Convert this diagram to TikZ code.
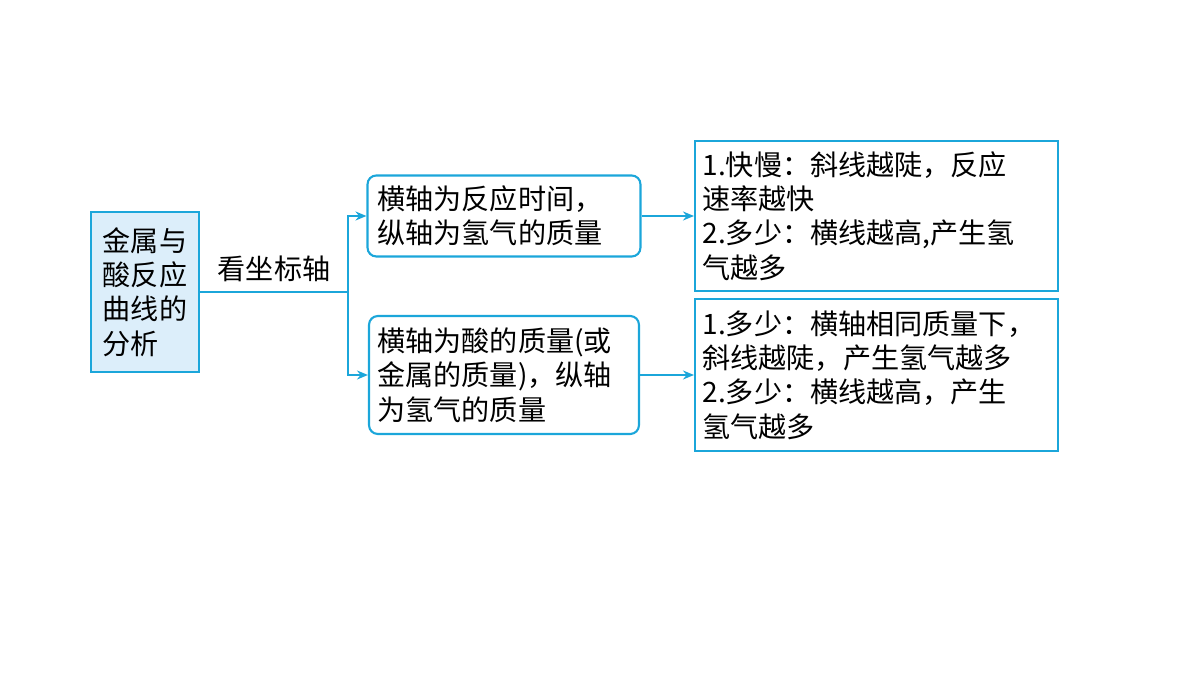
\documentclass[tikz,border=0pt]{standalone}
\usepackage{fontspec}
\setmainfont{Noto Sans CJK SC}
\usetikzlibrary{arrows.meta}
\definecolor{lineblue}{HTML}{1BA6DA}
\definecolor{fillblue}{HTML}{DCEEFA}
\tikzset{
    box/.style={draw=lineblue, line width=1.2pt, align=left, inner xsep=0.2cm,
        font=\fontsize{16}{19.5}\selectfont, anchor=center},
    link/.style={draw=lineblue, line width=1.2pt},
    arr/.style={link, -{Stealth[length=2.2mm,width=1.8mm]}}
}
\begin{document}
\begin{tikzpicture}[x=0.02cm, y=-0.02cm]
    \useasboundingbox (0,0) rectangle (1200,675);
    \node[box, fill=fillblue, minimum width=2.16cm, minimum height=3.2cm, inner xsep=0.12cm] (l) at (145,292) {金属与\\酸反应\\曲线的\\分析};
    \node[box, rounded corners=5pt, minimum width=5.4cm, minimum height=1.62cm, text width=5.06cm] (b1) at (504,216) {横轴为反应时间，\\纵轴为氢气的质量};
    \node[box, rounded corners=5pt, minimum width=5.4cm, minimum height=2.36cm, text width=5.06cm, inner xsep=0.17cm] (b2) at (504,375) {横轴为酸的质量(或\\金属的质量)，纵轴\\为氢气的质量};
    \node[box, minimum width=7.26cm, minimum height=3.0cm, text width=6.96cm, inner xsep=0.15cm] (r1) at (876.5,216) {1.快慢：斜线越陡，反应\\速率越快\\2.多少：横线越高,产生氢\\气越多};
    \node[box, minimum width=7.26cm, minimum height=3.04cm, text width=6.96cm, inner xsep=0.15cm] (r2) at (876.5,375) {1.多少：横轴相同质量下，\\斜线越陡，产生氢气越多\\2.多少：横线越高，产生\\氢气越多};
    \coordinate (br) at (348,292);
    \draw[link] (l.east) -- (br) node[midway, above=2pt, font=\fontsize{16}{19}\selectfont] (lab) {看坐标轴};
    \draw[arr] (br) |- (b1.west);
    \draw[arr] (br) |- (b2.west);
    \draw[arr] (b1.east) -- (b1.east -| r1.west);
    \draw[arr] (b2.east) -- (b2.east -| r2.west);
\end{tikzpicture}
\end{document}
